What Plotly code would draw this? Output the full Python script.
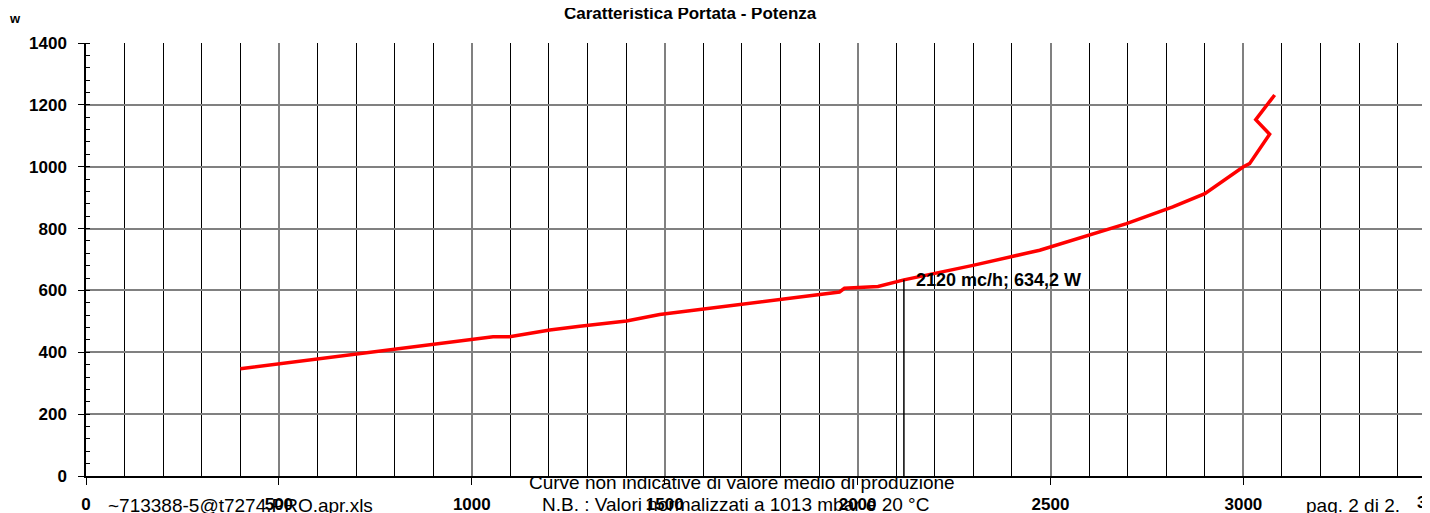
import plotly.graph_objects as go

# ---- data ----
flow_mch = [400, 1055, 1098, 1202, 1280, 1401, 1487, 1694, 1850, 1953, 1966, 2053,
            2120, 2299, 2472, 2602, 2697, 2817, 2900, 2999, 3016, 3068, 3032, 3081]
power_w = [347, 450, 450, 472, 484, 501, 522, 555, 578, 595, 607, 613,
           634, 681, 730, 781, 816, 870, 913, 999, 1010, 1105, 1152, 1232]

op_flow = 2120
op_power = 634.2
op_label = "2120 mc/h; 634,2 W"

title_text = "Caratteristica Portata - Potenza"
y_unit = "w"
footer_file = "~713388-5@t7274.PRO.apr.xls"
footer_note1 = "Curve non indicative di valore medio di produzione"
footer_note2 = "N.B. : Valori normalizzati a 1013 mbar e 20 °C"
footer_page = "pag. 2 di 2."
x_ticks = [0, 500, 1000, 1500, 2000, 2500, 3000, 3500]
y_ticks = [0, 200, 400, 600, 800, 1000, 1200, 1400]

# ---- layout geometry (page body has an 8px margin) ----
OFF = 8
W, H = 1430, 513
ML, MR, MT, MB = 86 - OFF, OFF, 43 - OFF, 513 - (476 - OFF)
PW = W - ML - MR
PH = H - MT - MB
PX_PER_X = 0.3858
X_MAX = PW / PX_PER_X


def px(xs):
    """screen x -> paper x"""
    return (xs - OFF - ML) / PW


def py(ys):
    """screen y -> paper y"""
    return (H - MB - (ys - OFF)) / PH


FONT = "Liberation Sans, Arial, sans-serif"

fig = go.Figure()

fig.add_trace(go.Scatter(
    x=flow_mch, y=power_w, mode="lines",
    line=dict(color="#ff0000", width=3.5),
    showlegend=False, hoverinfo="skip"))

fig.add_trace(go.Scatter(
    x=[op_flow, op_flow], y=[0, op_power], mode="lines",
    line=dict(color="black", width=1.5),
    showlegend=False, hoverinfo="skip"))

annotations = [
    dict(x=op_flow, y=op_power, xref="x", yref="y", text="<b>%s</b>" % op_label,
         showarrow=False, xanchor="left", yanchor="middle", xshift=10,
         font=dict(family=FONT, size=18, color="black")),
    dict(x=px(690), y=py(13), xref="paper", yref="paper", text="<b>%s</b>" % title_text,
         showarrow=False, xanchor="center", yanchor="middle",
         font=dict(family=FONT, size=17, color="black")),
    dict(x=px(15), y=py(19), xref="paper", yref="paper", text="<b>%s</b>" % y_unit,
         showarrow=False, xanchor="center", yanchor="middle",
         font=dict(family=FONT, size=13, color="black")),
    dict(x=px(106), y=py(506), xref="paper", yref="paper", text=footer_file,
         showarrow=False, xanchor="left", yanchor="middle",
         font=dict(family=FONT, size=19, color="black")),
    dict(x=px(742), y=py(482), xref="paper", yref="paper", text=footer_note1,
         showarrow=False, xanchor="center", yanchor="middle",
         font=dict(family=FONT, size=19, color="black")),
    dict(x=px(735), y=py(504.5), xref="paper", yref="paper", text=footer_note2,
         showarrow=False, xanchor="center", yanchor="middle",
         font=dict(family=FONT, size=19, color="black")),
    dict(x=px(1304), y=py(506), xref="paper", yref="paper", text=footer_page,
         showarrow=False, xanchor="left", yanchor="middle",
         font=dict(family=FONT, size=19, color="black")),
    # last x tick label lies just beyond the visible plot edge
    dict(x=x_ticks[-1] / X_MAX, y=py(503), xref="paper", yref="paper",
         text="<b>%d</b>" % x_ticks[-1],
         showarrow=False, xanchor="center", yanchor="middle",
         font=dict(family=FONT, size=17, color="black")),
]

fig.update_layout(
    width=W, height=H,
    margin=dict(l=ML, r=MR, t=MT, b=MB, pad=0),
    paper_bgcolor="white", plot_bgcolor="white",
    showlegend=False,
    annotations=annotations,
    font=dict(family=FONT, color="black"),
)

fig.update_xaxes(
    range=[0, X_MAX], tickmode="array", tickvals=x_ticks[:-1],
    ticktext=["<b>%d</b>" % v for v in x_ticks[:-1]],
    tickfont=dict(family=FONT, size=17, color="black"),
    ticks="outside", ticklen=7, tickcolor="black", tickwidth=1,
    ticklabelstandoff=5,
    showgrid=True, gridcolor="#808080", gridwidth=2,
    showline=True, linecolor="black", linewidth=1.5,
    zeroline=False,
    minor=dict(dtick=100, tick0=0, showgrid=True, gridcolor="black", gridwidth=1, ticks=""),
)

fig.update_yaxes(
    range=[0, 1400], tickmode="array", tickvals=y_ticks,
    ticktext=["<b>%d</b>" % v for v in y_ticks],
    tickfont=dict(family=FONT, size=17, color="black"),
    ticks="outside", ticklen=6, tickcolor="black", tickwidth=1,
    ticklabelstandoff=8,
    showgrid=True, gridcolor="#808080", gridwidth=2,
    showline=True, linecolor="black", linewidth=1.5,
    zeroline=False,
    minor=dict(dtick=40, tick0=0, ticks="inside", ticklen=4, tickcolor="black", showgrid=False),
)

fig.write_html("out.html")
